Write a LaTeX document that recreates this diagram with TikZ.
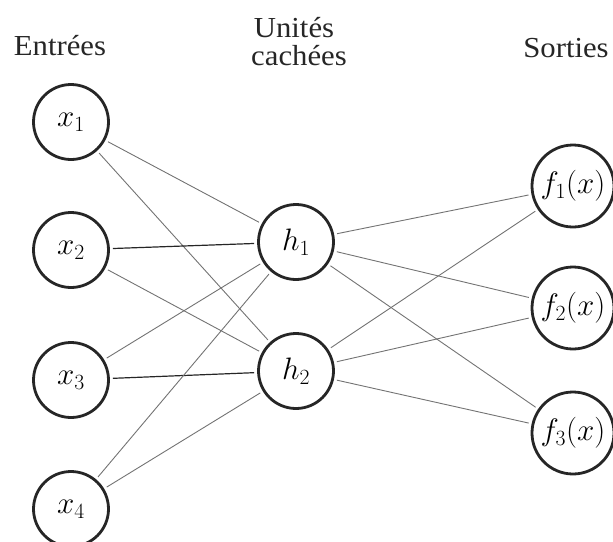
\RequirePackage{fix-cm}
\documentclass[tikz,border=0pt]{standalone}
\usepackage{fontspec}
\setmainfont{Liberation Serif}[FakeStretch=1.06]
\begin{document}
\begin{tikzpicture}[x=1pt,y=-1pt,
  unit/.style={circle,draw=black!85,line width=2.8pt,minimum size=75pt,inner sep=0pt,
    font=\fontsize{31}{36}\selectfont},
  outunit/.style={unit,minimum size=82pt},
  lbl/.style={anchor=base,inner sep=0pt,font=\fontsize{29}{34}\selectfont,text=black!85},
  link/.style={draw=black!55,line width=0.9pt,shorten <=3pt,shorten >=3pt},
  strong/.style={link,draw=black!85,line width=1.2pt}]
\useasboundingbox (0,0) rectangle (613,541);
% titles
\node[lbl] (tin) at (60,55) {Entrées};
\node[lbl] (thid1) at (294,37) {Unités};
\node[lbl] (thid2) at (299,65) {cachées};
\node[lbl] (tout) at (566,57) {Sorties};
% units
\node[unit] (x1) at (71,122) {$x_1$};
\node[unit] (x2) at (71,250) {$x_2$};
\node[unit] (x3) at (71,380) {$x_3$};
\node[unit] (x4) at (71,509) {$x_4$};
\node[unit] (h1) at (296,242) {$h_1$};
\node[unit] (h2) at (296,371) {$h_2$};
\node[outunit] (f1) at (573,186) {$f_1(x)$};
\node[outunit] (f2) at (573,308) {$f_2(x)$};
\node[outunit] (f3) at (573,433) {$f_3(x)$};
% connections
\draw[link] (x1) -- (h1);
\draw[link] (x1) -- (h2);
\draw[strong] (x2) -- (h1);
\draw[link] (x2) -- (h2);
\draw[link] (x3) -- (h1);
\draw[strong] (x3) -- (h2);
\draw[link] (x4) -- (h1);
\draw[link] (x4) -- (h2);
\draw[link] (h1) -- (f1);
\draw[link] (h1) -- (f2);
\draw[link] (h1) -- (f3);
\draw[link] (h2) -- (f1);
\draw[link] (h2) -- (f2);
\draw[link] (h2) -- (f3);
\end{tikzpicture}
\end{document}
